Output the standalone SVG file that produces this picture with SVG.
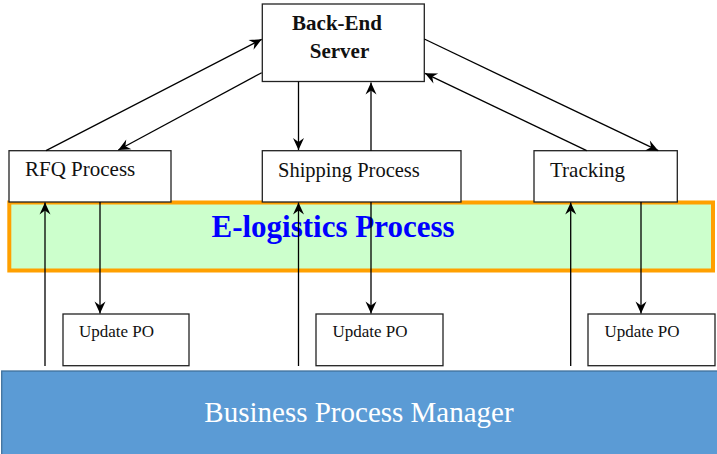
<svg xmlns="http://www.w3.org/2000/svg" width="717" height="454" viewBox="0 0 717 454">
  <defs>
    <marker id="arrow" viewBox="-13 -6 14 12" markerWidth="14" markerHeight="12" refX="0" refY="0" orient="auto" markerUnits="userSpaceOnUse">
      <path d="M0,0 L-12,-5.5 L-8,0 L-12,5.5 Z" fill="#000"/>
    </marker>
  </defs>
  <style>
    .box { fill: #fff; stroke: #222; stroke-width: 1.3; }
    .lbl { font-family: "Liberation Serif", "Times New Roman", serif; fill: #111; }
    .conn line { stroke: #000; stroke-width: 1.3; marker-end: url(#arrow); }
  </style>

  <!-- background band for the e-logistics layer -->
  <g id="elogistics">
    <rect x="9.3" y="202.5" width="703.7" height="68" fill="#ccffcc" stroke="#ffa000" stroke-width="4"/>
    <text x="333" y="237" text-anchor="middle" class="lbl" font-size="31" font-weight="bold" style="fill:#0000ff">E-logistics Process</text>
  </g>

  <!-- business process manager -->
  <g id="bpm">
    <rect x="1.7" y="371" width="716" height="84" fill="#5b9bd5" stroke="#41719c" stroke-width="1.3"/>
    <text x="359" y="422" text-anchor="middle" class="lbl" font-size="29" style="fill:#fff">Business Process Manager</text>
  </g>

  <g id="server">
    <rect class="box" x="262.3" y="4" width="162" height="77.5"/>
    <text x="337" y="30" text-anchor="middle" class="lbl" font-size="21" font-weight="bold">Back-End</text>
    <text x="339.5" y="58" text-anchor="middle" class="lbl" font-size="21" font-weight="bold">Server</text>
  </g>

  <g id="rfq">
    <rect class="box" x="9" y="150.7" width="162" height="51.3"/>
    <text x="25" y="176" class="lbl" font-size="21">RFQ Process</text>
  </g>

  <g id="shipping">
    <rect class="box" x="262.3" y="150.7" width="198.7" height="51.3"/>
    <text x="278" y="177" class="lbl" font-size="20.5">Shipping Process</text>
  </g>

  <g id="tracking">
    <rect class="box" x="534" y="150.7" width="143.3" height="51.3"/>
    <text x="550" y="177" class="lbl" font-size="21">Tracking</text>
  </g>

  <g id="po1">
    <rect class="box" x="63" y="314" width="126" height="51.7"/>
    <text x="79" y="337" class="lbl" font-size="17">Update PO</text>
  </g>
  <g id="po2">
    <rect class="box" x="316" y="314" width="127" height="51.7"/>
    <text x="332.5" y="337" class="lbl" font-size="17">Update PO</text>
  </g>
  <g id="po3">
    <rect class="box" x="588" y="314" width="127" height="51.7"/>
    <text x="604.5" y="337" class="lbl" font-size="17">Update PO</text>
  </g>

  <g id="connectors" class="conn">
    <!-- process boxes to and from the server -->
    <line x1="46" y1="150.7" x2="261.7" y2="39.3"/>
    <line x1="261.7" y1="72.7" x2="118.3" y2="150"/>
    <line x1="298.5" y1="81.7" x2="298.5" y2="150"/>
    <line x1="371" y1="150.7" x2="371" y2="82.5"/>
    <line x1="586.7" y1="150.7" x2="425" y2="73.3"/>
    <line x1="424.3" y1="39" x2="658.3" y2="150.7"/>
    <!-- manager up to each process -->
    <line x1="45" y1="366" x2="45" y2="202.5"/>
    <line x1="298.5" y1="366" x2="298.5" y2="202.5"/>
    <line x1="570.7" y1="366" x2="570.7" y2="202.5"/>
    <!-- each process down to its PO update -->
    <line x1="100" y1="202" x2="100" y2="313.5"/>
    <line x1="371" y1="202" x2="371" y2="313.5"/>
    <line x1="641" y1="202" x2="641" y2="313.5"/>
  </g>
</svg>
